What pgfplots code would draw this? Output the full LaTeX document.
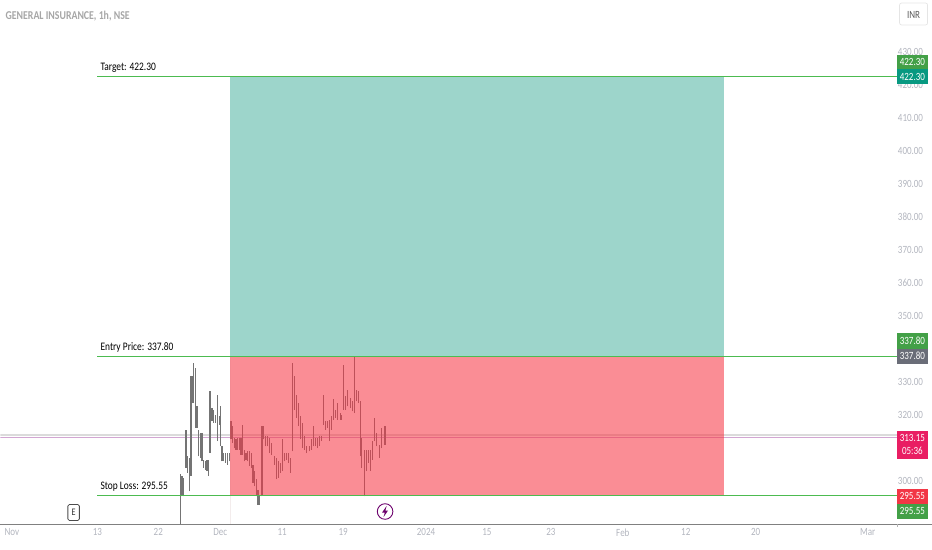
\documentclass[border=0pt]{standalone}
\usepackage{fontspec}
\setmainfont[FakeStretch=0.82]{Carlito}
\newfontfamily\symfont{DejaVu Sans}
\usepackage{pgfplots}
\usepackage{pgfplotstable}
\pgfplotsset{compat=1.18}
\definecolor{gridtxt}{HTML}{B2B5BE}
\definecolor{lvl}{HTML}{4CBB50}
\definecolor{tealbox}{HTML}{9DD5CB}
\definecolor{redbox}{HTML}{F63645}
\definecolor{barc}{HTML}{747474}
\definecolor{tagg}{HTML}{43A047}
\definecolor{tagt}{HTML}{089981}
\definecolor{tagk}{HTML}{6A6D78}
\definecolor{tagp}{HTML}{E91E63}
\definecolor{tagr}{HTML}{F23645}
\pgfplotstableread{
x lo hi
180.0 287.0 302.0
181.7 295.4 301.5
183.3 295.4 301.0
185.7 304.0 315.6
187.3 302.5 307.5
189.0 296.9 307.0
190.7 301.5 331.7
192.0 323.6 331.7
193.3 323.6 335.7
195.0 316.1 334.2
196.7 316.1 322.6
198.3 307.5 315.6
200.0 307.0 314.6
201.7 306.0 314.6
203.3 304.0 306.5
205.0 303.5 306.0
206.7 303.0 306.5
208.3 301.5 306.5
209.7 308.5 327.2
211.7 318.1 322.1
213.3 317.6 321.6
215.0 317.6 320.1
217.3 312.1 326.2
219.0 317.1 319.6
220.0 310.5 322.6
221.7 306.0 310.5
223.3 306.0 308.5
225.0 305.5 308.5
227.3 305.0 308.5
229.0 306.0 308.5
230.7 312.6 318.1
232.3 311.6 316.6
234.0 310.0 313.1
235.7 309.5 312.6
237.3 309.5 313.1
239.0 309.5 313.1
240.7 308.0 313.1
242.0 308.0 317.1
244.0 306.0 309.5
245.7 306.5 308.5
247.3 306.0 309.0
249.3 304.5 309.0
251.0 304.0 308.5
252.7 299.5 305.0
254.3 298.4 303.0
256.0 295.4 300.5
257.7 292.9 297.4
259.3 292.9 295.4
261.7 295.4 316.6
263.0 312.6 316.8
265.0 310.5 313.6
267.3 310.5 313.6
269.3 308.5 313.1
271.7 308.0 311.6
274.0 305.0 307.5
276.0 300.5 307.0
278.3 301.0 306.0
280.3 302.5 305.5
282.0 303.0 312.6
284.0 306.0 308.5
286.0 306.5 308.5
288.3 305.5 308.5
290.3 302.5 307.0
292.0 309.0 335.7
294.0 321.6 331.7
296.0 319.1 326.2
298.3 316.6 323.6
300.7 312.6 319.6
302.3 310.0 317.6
304.3 309.5 313.6
306.7 308.5 310.5
309.0 309.0 310.5
311.0 309.5 312.6
313.0 310.5 316.8
315.0 310.5 313.1
317.0 310.0 313.1
319.0 310.5 313.6
321.0 312.1 313.6
323.0 317.1 326.2
325.0 315.6 318.1
327.0 316.1 318.1
329.0 312.1 318.6
331.0 315.6 319.6
333.3 318.6 324.7
335.7 319.1 321.6
337.7 318.6 323.6
340.0 318.6 320.6
341.7 318.6 320.1
343.3 321.6 335.2
345.7 321.6 325.7
347.7 322.6 327.7
350.0 322.1 325.2
352.3 321.1 324.2
354.0 320.6 338.0
356.0 324.2 327.7
358.3 323.6 327.2
360.0 307.5 324.2
361.7 304.0 313.1
364.0 295.4 309.5
366.0 303.0 309.5
368.3 305.5 309.5
370.7 303.0 309.5
372.7 306.5 312.1
374.7 312.1 319.1
376.7 310.5 314.6
379.3 307.0 311.0
381.7 310.0 316.1
385.0 311.0 316.6
}\bars
\newcommand{\tagbox}[4]{% top, bottom (px), colour, text
  \fill[#3] (897.3pt,{550pt-#1pt}) rectangle (928.3pt,{550pt-#2pt});
  \node[white,font=\fontsize{11}{11}\selectfont,anchor=center,inner sep=0] at (912.8pt,{550pt-(#1pt+#2pt)/2}) {#4};
}
\begin{document}
\begin{tikzpicture}
\begin{axis}[
  at={(0pt,25.5pt)}, anchor=south west,
  scale only axis, width=932pt, height=524.5pt,
  xmin=0, xmax=932, ymin=287.02, ymax=445.58,
  clip=true,
  axis x line*=bottom, axis y line*=right,
  x axis line style={-,draw=black!50,line width=0.9pt},
  y axis line style={draw=none},
  tick style={draw=none},
  xtick={11.5,97,158,220,282,343,426,487,551,623,686,756,868},
  xticklabels={Nov,13,22,Dec,11,19,2024,15,23,Feb,12,20,Mar},
  xticklabel style={text=gridtxt,font=\fontsize{11}{11}\selectfont,yshift=-1pt},
  ytick={300,310,...,430},
  yticklabel style={text=gridtxt,font=\fontsize{11}{11}\selectfont,anchor=east,xshift=-5pt,
    /pgf/number format/fixed,/pgf/number format/fixed zerofill,/pgf/number format/precision=2,
    /pgf/number format/assume math mode=true},
]
% last price lines
\addplot[draw=black!14,line width=1.5pt,forget plot] coordinates {(0,314.0) (897,314.0)};
\addplot[draw=violet!35,line width=0.7pt,forget plot] coordinates {(0,313.15) (897,313.15)};
% bars
\addplot[draw=none,mark=none,forget plot,
  error bars/.cd,y dir=plus,y explicit,error mark=none,
  error bar style={draw=barc,line width=1.2pt}]
  table[x=x,y=lo,y error expr=\thisrow{hi}-\thisrow{lo}] {\bars};
% position boxes
\addplot[draw=none,fill=tealbox,forget plot] coordinates {(230,337.8) (724,337.8) (724,422.3) (230,422.3)} \closedcycle;
\addplot[draw=none,fill=redbox,fill opacity=0.57,forget plot] coordinates {(230,295.55) (724,295.55) (724,337.8) (230,337.8)} \closedcycle;
% levels
\addplot[draw=lvl,line width=1pt,forget plot] coordinates {(97,422.3) (897,422.3)};
\addplot[draw=lvl,line width=1pt,forget plot] coordinates {(97,337.8) (897,337.8)};
\addplot[draw=lvl,line width=1pt,forget plot] coordinates {(97,295.55) (897,295.55)};
\end{axis}
\path[use as bounding box] (0,0) rectangle (932pt,550pt);
\draw[black!30,line width=0.6pt] (897.3pt,25.5pt) -- (897.3pt,22pt);
% labels
\node[anchor=west,inner sep=0,text=black!35,font=\fontsize{12}{12}\selectfont\bfseries] at (5pt,{550pt-16pt}) {GENERAL INSURANCE, 1h, NSE};
\node[anchor=west,inner sep=0,font=\fontsize{11.5}{11.5}\selectfont] at (100pt,{550pt-68pt}) {Target: 422.30};
\node[anchor=west,inner sep=0,font=\fontsize{11.5}{11.5}\selectfont] at (100pt,{550pt-347.5pt}) {Entry Price: 337.80};
\node[anchor=west,inner sep=0,font=\fontsize{11.5}{11.5}\selectfont] at (100pt,{550pt-487pt}) {Stop Loss: 295.55};
% tags
\tagbox{55}{69}{tagg}{422.30}
\tagbox{69}{84.3}{tagt}{422.30}
\tagbox{333.3}{349}{tagg}{337.80}
\tagbox{349}{364}{tagk}{337.80}
\fill[tagp] (897.3pt,{550pt-431pt}) rectangle (928.3pt,{550pt-459pt});
\node[white,inner sep=0,font=\fontsize{11}{11}\selectfont] at (912.8pt,{550pt-438.5pt}) {313.15};
\node[white,inner sep=0,font=\fontsize{11}{11}\selectfont] at (912.8pt,{550pt-451.5pt}) {05:36};
\tagbox{489.3}{504}{tagr}{295.55}
\tagbox{504}{519}{tagg}{295.55}
% INR button
\draw[black!10,rounded corners=2pt,line width=0.7pt] (900pt,{550pt-3pt}) rectangle (928pt,{550pt-25pt});
\node[text=black!65,font=\fontsize{11}{11}\selectfont] at (914pt,{550pt-14.5pt}) {INR};
% E marker
\draw[black!70,fill=white,rounded corners=1.5pt,line width=0.8pt] (67.5pt,{550pt-505pt}) rectangle (79pt,{550pt-521pt});
\node[text=black!80,font=\fontsize{10}{10}\selectfont,inner sep=0] at (73.2pt,{550pt-513pt}) {E};
% lightning marker
\draw[violet!85!black,fill=white,line width=0.9pt] (385pt,{550pt-512pt}) circle (7.8pt);
\fill[violet!85!black] (386.5pt,{550pt-506.5pt}) -- (382pt,{550pt-513pt}) -- (384.7pt,{550pt-513pt}) -- (383.5pt,{550pt-517.5pt}) -- (388pt,{550pt-511pt}) -- (385.3pt,{550pt-511pt}) -- cycle;
\end{tikzpicture}
\end{document}
